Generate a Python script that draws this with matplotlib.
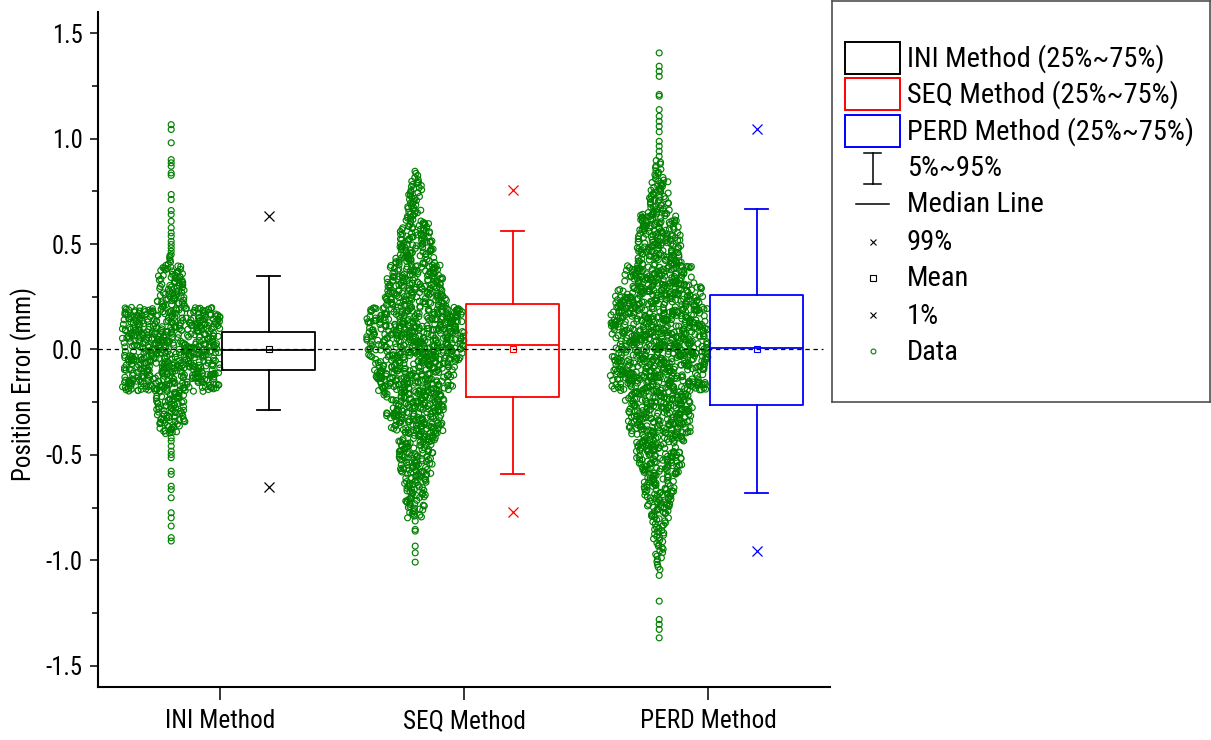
import numpy as np
import matplotlib
matplotlib.use('Agg')
import matplotlib.pyplot as plt
from matplotlib import font_manager
from matplotlib.ticker import MultipleLocator, NullLocator
from matplotlib.patches import Rectangle
from matplotlib.lines import Line2D

# ---------------- data ----------------
categories = ['INI Method', 'SEQ Method', 'PERD Method']
box_colors = ['#000000', '#FF0000', '#0000FF']
data_color = '#008000'

# box statistics
q1 = [-0.098, -0.223, -0.265]
median = [-0.004, 0.020, 0.005]
q3 = [0.084, 0.218, 0.256]
p5 = [-0.289, -0.589, -0.678]
p95 = [0.347, 0.564, 0.664]
p1 = [-0.652, -0.771, -0.957]
p99 = [0.632, 0.758, 1.047]
mean = [0.0, 0.002, 0.003]

# raw data, read as counts per 0.05 bin (dense part) plus single points (sparse tails)
bin_width = 0.05
ini_bin_start = -0.40
ini_counts = [18, 23, 23, 23, 75, 75, 75, 75, 75, 75, 75, 75, 23, 20, 20, 19, 5]
ini_sparse = [0.450, 0.466, 0.482, 0.498, 0.513, 0.537, 0.553, 0.577, 0.608, 0.640,
              0.659, 0.711, 0.735, 0.826, 0.837, 0.869, 0.885, 0.900, 0.980, 1.043, 1.066,
              -0.419, -0.434, -0.458, -0.482, -0.498, -0.513, -0.577, -0.592, -0.648,
              -0.664, -0.703, -0.774, -0.798, -0.837, -0.892, -0.908]

seq_bin_start = -0.80
seq_counts = [12, 15, 16, 18, 25, 26, 28, 31, 43, 45, 45, 48, 60, 61, 63, 73,
              75, 75, 75, 73, 48, 46, 44, 40, 30, 28, 26, 23, 14, 12, 11, 10, 5]
seq_sparse = [-0.813, -0.853, -0.861, -0.932, -0.964, -1.008]

perd_bin_start = -1.05
perd_counts = [4, 6, 7, 9, 10, 15, 21, 23, 23, 30, 35, 35, 38, 48, 50, 51, 53, 73,
               75, 75, 75, 75, 75, 75, 75, 69, 68, 55, 54, 35, 34, 33, 31, 30,
               16, 15, 15, 8, 6]
perd_sparse = [0.916, 0.940, 0.964, 0.987, 1.032, 1.058, 1.082, 1.106, 1.137, 1.201,
               1.209, 1.295, 1.319, 1.343, 1.406,
               -1.071, -1.193, -1.280, -1.303, -1.327, -1.367]

y_ticks = [-1.5, -1.0, -0.5, 0.0, 0.5, 1.0, 1.5]
y_tick_labels = ['-1.5', '-1.0', '-0.5', '0.0', '0.5', '1.0', '1.5']
y_label = 'Position Error (mm)'

legend_labels = ['INI Method (25%~75%)', 'SEQ Method (25%~75%)', 'PERD Method (25%~75%)',
                 '5%~95%', 'Median Line', '99%', 'Mean', '1%', 'Data']

# ---------------- fonts ----------------
names = {f.name for f in font_manager.fontManager.ttflist}
narrow_font = None
for cand in ['Liberation Sans Narrow', 'Arial Narrow', 'Roboto Condensed',
             'Archivo Narrow', 'Sofia Sans Condensed', 'Open Sans Condensed',
             'Fira Sans Condensed', 'PT Sans Narrow', 'Liberation Sans']:
    if cand in names:
        narrow_font = cand
        break
if narrow_font is None:
    narrow_font = 'DejaVu Sans'
FAM = [narrow_font, 'DejaVu Sans']
plt.rcParams['font.family'] = FAM
plt.rcParams['axes.unicode_minus'] = False

W, H = 1211, 740
fig = plt.figure(figsize=(W / 100, H / 100), dpi=100)
renderer = fig.canvas.get_renderer()


def fit_size(text, target_px, base=20.0):
    t = fig.text(0, 0, text, fontsize=base, family=FAM)
    w = t.get_window_extent(renderer).width
    t.remove()
    return base * target_px / w


legend_fs = fit_size(legend_labels[0], 257)
xtick_fs = fit_size(categories[0], 110)
ylabel_fs = fit_size(y_label, 194)
ytick_fs = fit_size('0.0', 31)

ax = fig.add_axes([98 / W, 1 - 687 / H, (830 - 98) / W, (687 - 12) / H])

# ---------------- data points (jittered strip, width ~ bin count) ----------------
# horizontal placement is layout only: a deterministic hash spreads the points
# of each bin across a width proportional to the bin count.
def layout_hash(k):
    return np.abs(np.sin(k * 12.9898 + 78.233) * 43758.5453) % 1.0


max_count = max(max(ini_counts), max(seq_counts), max(perd_counts))
half_w = 0.2
scatter_offset = -0.2
groups = [(ini_bin_start, ini_counts, ini_sparse),
          (seq_bin_start, seq_counts, seq_sparse),
          (perd_bin_start, perd_counts, perd_sparse)]
for gi, (start, counts, sparse) in enumerate(groups):
    cx = gi + 1 + scatter_offset
    xs, ys = [], []
    k = 1000 * gi
    for i, n in enumerate(counts):
        lo = start + i * bin_width
        hw = half_w * n / max_count
        for j in range(n):
            k += 1
            ys.append(lo + (j + 0.5) / n * bin_width)
            xs.append(cx + hw * (2 * layout_hash(k) - 1))
    xs += [cx] * len(sparse)
    ys += list(sparse)
    ax.scatter(xs, ys, s=18, facecolors='none', edgecolors=data_color,
               linewidths=0.85, zorder=2)

# zero reference line
ax.axhline(0, xmin=0, xmax=0.99, color='black', lw=0.9, ls=(0, (3.5, 3)), zorder=3)

# ---------------- boxes ----------------
for i in range(3):
    c = box_colors[i]
    st = [dict(med=median[i], q1=q1[i], q3=q3[i], whislo=p5[i], whishi=p95[i],
               mean=mean[i], fliers=[p1[i], p99[i]], label='')]
    ax.bxp(st, positions=[i + 1.2], widths=0.38, capwidths=0.095,
           showmeans=True, showfliers=True, manage_ticks=False,
           boxprops=dict(color=c, lw=1.3), whiskerprops=dict(color=c, lw=1.3),
           capprops=dict(color=c, lw=1.3), medianprops=dict(color=c, lw=1.3),
           meanprops=dict(marker='s', markerfacecolor='none', markeredgecolor=c,
                          markersize=5, markeredgewidth=0.8),
           flierprops=dict(marker='x', markeredgecolor=c, markersize=7,
                           markeredgewidth=0.9))

# ---------------- axes styling ----------------
ax.set_xlim(0.5, 3.5)
ax.set_ylim(-1.6, 1.6)
for sp in ['top', 'right']:
    ax.spines[sp].set_visible(False)
for sp in ['left', 'bottom']:
    ax.spines[sp].set_linewidth(1.5)
ax.set_yticks(y_ticks)
ax.set_yticklabels(y_tick_labels, fontsize=ytick_fs)
ax.yaxis.set_minor_locator(MultipleLocator(0.25))
ax.set_xticks([1, 2, 3])
ax.set_xticklabels(categories, fontsize=xtick_fs)
ax.xaxis.set_minor_locator(NullLocator())
ax.tick_params(axis='y', which='major', direction='out', length=6, width=1.1, pad=5)
ax.tick_params(axis='y', which='minor', direction='out', length=4, width=1.1)
ax.tick_params(axis='x', which='major', direction='out', length=9, width=1.1, pad=7)
ax.set_ylabel(y_label, fontsize=ylabel_fs)
ax.yaxis.set_label_coords(-0.083, 0.449)

# ---------------- legend (drawn in pixel space) ----------------
lax = fig.add_axes([832 / W, 1 - 402 / H, (1210 - 832) / W, (402 - 1) / H])
lax.set_xlim(832, 1210)
lax.set_ylim(402, 1)
lax.set_xticks([])
lax.set_yticks([])
for sp in lax.spines.values():
    sp.set_color('#505050')
    sp.set_linewidth(1.2)

rows = [58, 94, 131, 168, 204, 242, 278, 315, 351]
for i in range(3):
    lax.add_patch(Rectangle((845, rows[i] - 16), 55, 32, fill=False,
                            edgecolor=box_colors[i], lw=1.4))
mx = 872.5
y5 = rows[3]
lax.add_line(Line2D([mx, mx], [y5 - 15.5, y5 + 15.5], color='black', lw=1.1))
lax.add_line(Line2D([mx - 8.5, mx + 8.5], [y5 - 15.5, y5 - 15.5], color='black', lw=1.1))
lax.add_line(Line2D([mx - 8.5, mx + 8.5], [y5 + 15.5, y5 + 15.5], color='black', lw=1.1))
lax.add_line(Line2D([856, 889], [rows[4], rows[4]], color='black', lw=1.1))
lax.plot([mx], [rows[5]], marker='x', color='black', markersize=5, mew=0.8)
lax.plot([mx], [rows[6]], marker='s', markerfacecolor='none', markeredgecolor='black',
         markersize=4.5, mew=0.8)
lax.plot([mx], [rows[7]], marker='x', color='black', markersize=5, mew=0.8)
lax.plot([mx], [rows[8]], marker='o', markerfacecolor='none', markeredgecolor=data_color,
         markersize=3.5, mew=0.8)
for lbl, ry in zip(legend_labels, rows):
    lax.text(907, ry + 1, lbl, fontsize=legend_fs, va='center', ha='left')

fig.savefig('out.png', dpi=100)
